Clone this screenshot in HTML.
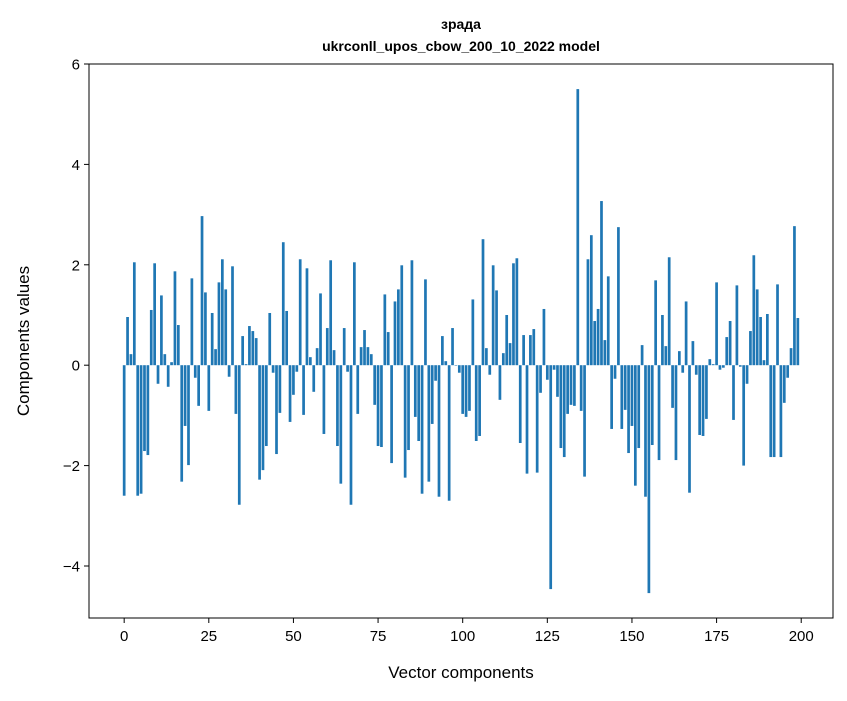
<!DOCTYPE html>
<html><head><meta charset="utf-8"><style>
body{margin:0;background:#fff;}
svg text{font-family:"Liberation Sans","DejaVu Sans",sans-serif;}
</style></head><body>
<svg id="chart" width="847" height="696" viewBox="0 0 847 696" xmlns="http://www.w3.org/2000/svg">
<rect width="847" height="696" fill="#fff"/>
<text x="461" y="29" text-anchor="middle" font-size="14" font-weight="bold">зрада</text>
<text x="461" y="51" text-anchor="middle" font-size="14" font-weight="bold">ukrconll_upos_cbow_200_10_2022 model</text>
<g id="bars"></g>
<g id="xticks"></g>
<g id="yticks"></g>
<rect x="89" y="64" width="744" height="554" fill="none" stroke="#000" stroke-width="1"/>
<text x="461" y="678" text-anchor="middle" font-size="17">Vector components</text>
<text transform="translate(29,341) rotate(-90)" text-anchor="middle" font-size="17">Components values</text>
</svg>
<script>
const values = [
-2.6,0.96,0.22,2.05,-2.6,-2.56,-1.71,-1.79,1.1,2.03,
-0.37,1.39,0.22,-0.43,0.06,1.87,0.8,-2.32,-1.21,-1.99,
1.73,-0.25,-0.81,2.97,1.45,-0.91,1.04,0.32,1.65,2.11,
1.51,-0.23,1.97,-0.97,-2.78,0.58,0.02,0.78,0.68,0.54,
-2.28,-2.09,-1.61,1.04,-0.15,-1.77,-0.95,2.45,1.08,-1.13,
-0.59,-0.13,2.11,-0.99,1.93,0.16,-0.53,0.34,1.43,-1.37,
0.74,2.09,0.3,-1.61,-2.36,0.74,-0.13,-2.78,2.05,-0.97,
0.36,0.7,0.36,0.22,-0.79,-1.61,-1.63,1.41,0.66,-1.95,
1.27,1.51,1.99,-2.24,-1.69,2.09,-1.03,-1.51,-2.56,1.71,
-2.32,-1.17,-0.31,-2.62,0.58,0.08,-2.7,0.74,-0.01,-0.15,
-0.97,-1.03,-0.91,1.31,-1.51,-1.41,2.51,0.34,-0.19,1.99,
1.49,-0.69,0.24,1.0,0.44,2.03,2.13,-1.55,0.6,-2.16,
0.6,0.72,-2.14,-0.55,1.12,-0.29,-4.46,-0.09,-0.63,-1.65,
-1.83,-0.97,-0.79,-0.81,5.5,-0.91,-2.22,2.11,2.59,0.88,
1.12,3.27,0.5,1.77,-1.27,-0.27,2.75,-1.27,-0.89,-1.75,
-1.21,-2.4,-1.65,0.4,-2.62,-4.54,-1.59,1.69,-1.89,1.0,
0.38,2.15,-0.85,-1.89,0.28,-0.15,1.27,-2.54,0.48,-0.19,
-1.39,-1.41,-1.07,0.12,0.02,1.65,-0.09,-0.05,0.56,0.88,
-1.09,1.59,-0.03,-2.0,-0.37,0.68,2.19,1.51,0.96,0.1,
1.02,-1.83,-1.83,1.61,-1.83,-0.75,-0.25,0.34,2.77,0.94
];
const xTickValues = [0,25,50,75,100,125,150,175,200];
const yTickValues = [-4,-2,0,2,4,6];
const yTickLabels = ["\u22124","\u22122","0","2","4","6"];

const L=89,R=833,T=64,B=618;
const xMin=-10.39,xMax=209.39,yMin=-5.036,yMax=6;
const sx=v=>L+(v-xMin)/(xMax-xMin)*(R-L);
const sy=v=>T+(yMax-v)/(yMax-yMin)*(B-T);
const NS="http://www.w3.org/2000/svg";
const bars=document.getElementById('bars');
values.forEach((v,i)=>{
  const r=document.createElementNS(NS,'rect');
  const x0=sx(i-0.4),x1=sx(i+0.4);
  const y0=sy(Math.max(v,0)),y1=sy(Math.min(v,0));
  r.setAttribute('x',x0);r.setAttribute('width',x1-x0);
  r.setAttribute('y',y0);r.setAttribute('height',Math.max(y1-y0,0.1));
  r.setAttribute('fill','#1f77b4');
  
  
  bars.appendChild(r);
});
const xt=document.getElementById('xticks');
xTickValues.forEach(v=>{
  const x=sx(v);
  const l=document.createElementNS(NS,'line');
  l.setAttribute('x1',x);l.setAttribute('x2',x);l.setAttribute('y1',B);l.setAttribute('y2',B+5);
  l.setAttribute('stroke','#000');
  
  
  xt.appendChild(l);
  const t=document.createElementNS(NS,'text');
  t.setAttribute('x',x);t.setAttribute('y',B+23);t.setAttribute('text-anchor','middle');t.setAttribute('font-size','15');
  t.textContent=String(v);
  
  
  xt.appendChild(t);
});
const yt=document.getElementById('yticks');
yTickValues.forEach((v,i)=>{
  const y=sy(v);
  const l=document.createElementNS(NS,'line');
  l.setAttribute('x1',L-5);l.setAttribute('x2',L);l.setAttribute('y1',y);l.setAttribute('y2',y);
  l.setAttribute('stroke','#000');
  
  
  yt.appendChild(l);
  const t=document.createElementNS(NS,'text');
  t.setAttribute('x',L-9);t.setAttribute('y',y+5.5);t.setAttribute('text-anchor','end');t.setAttribute('font-size','15');
  t.textContent=yTickLabels[i];
  
  
  yt.appendChild(t);
});
</script>
</body></html>
